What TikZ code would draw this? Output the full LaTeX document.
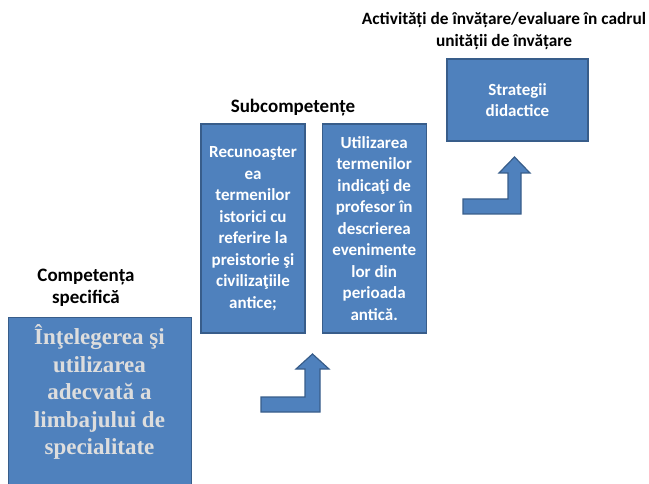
\documentclass[tikz,border=0pt]{standalone}
\usepackage{fontspec}
\setmainfont{Carlito}
\newfontfamily\specserif{Liberation Serif}
\usetikzlibrary{positioning}

\definecolor{boxblue}{HTML}{4F81BD}
\definecolor{boxedge}{HTML}{385D8A}
\definecolor{lighttext}{HTML}{DDDDDD}

\begin{document}
\begin{tikzpicture}[
    x=1pt, y=-1pt,
    box/.style={rectangle, draw=boxedge, fill=boxblue, line width=1.2pt, align=center,
        text=white, font=\fontsize{17}{21.5}\selectfont\bfseries},
    bigtext/.style={align=center, inner sep=0pt, text=lighttext,
        font=\specserif\fontsize{23}{27.5}\selectfont\bfseries},
    heading/.style={align=center, font=\fontsize{19}{22}\selectfont\bfseries},
    bentarrow/.style={draw=boxedge, fill=boxblue, line width=1.2pt, line join=miter}
]
\useasboundingbox (0,0) rectangle (649,484);

% Competenta specifica
\node[box, anchor=north west, minimum width=183pt, minimum height=190pt] (spec) at (8,317) {};
\node[bigtext] (spectext) at (99.5,392) {Înţelegerea şi\\utilizarea\\adecvată a\\limbajului de\\specialitate};
\node[heading] (speclabel) at (86,288) {Competența\\specifică};

% Subcompetente
\node[box, minimum width=104pt, minimum height=209pt] (sub1) at (253,228.5)
    {Recunoaşter\\ea\\termenilor\\istorici cu\\referire la\\preistorie şi\\civilizaţiile\\antice;};
\node[box, minimum width=104pt, minimum height=209pt, right=16pt of sub1] (sub2)
    {Utilizarea\\termenilor\\indicaţi de\\profesor în\\descrierea\\evenimente\\lor din\\perioada\\antică.};
\node[heading] (sublabel) at (293,108) {Subcompetențe};

% Activitati de invatare
\node[box, minimum width=141pt, minimum height=82pt] (strat) at (517.5,100) {Strategii\\didactice};
\node[heading, font=\fontsize{17.3}{22}\selectfont\bfseries] (actlabel) at (504,31)
    {Activități de învățare/evaluare în cadrul\\unității de învățare};

% bent arrows
\draw[bentarrow] (261,397) -- (305,397) -- (305,369) -- (296,369) -- (312.5,354)
    -- (329,369) -- (320,369) -- (320,412) -- (261,412) -- cycle;
\draw[bentarrow] (463,199) -- (508,199) -- (508,173) -- (499,173) -- (514.5,157)
    -- (530,173) -- (521,173) -- (521,214) -- (463,214) -- cycle;

\end{tikzpicture}
\end{document}
